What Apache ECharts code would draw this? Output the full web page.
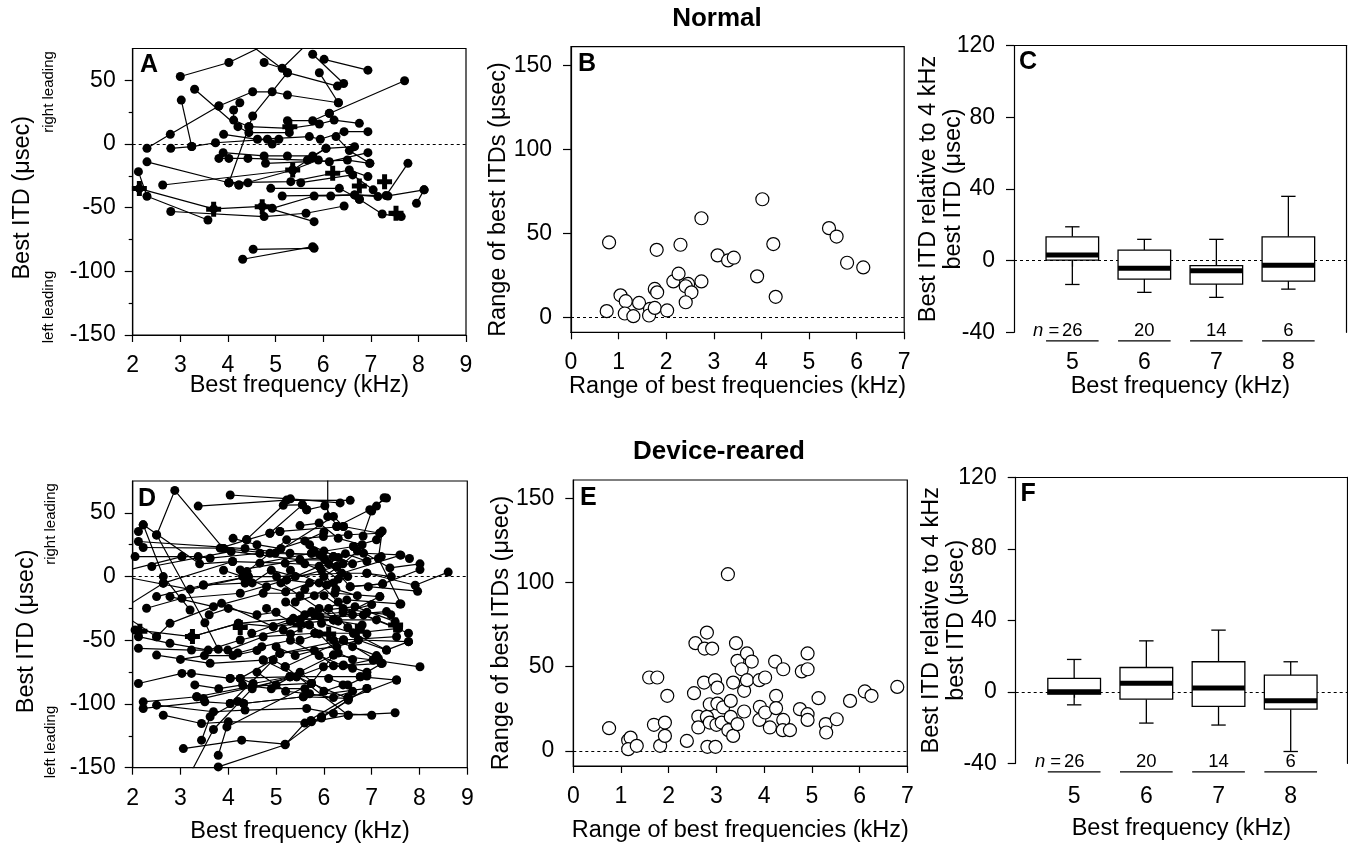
<!DOCTYPE html>
<html><head><meta charset="utf-8">
<script src="https://cdn.jsdelivr.net/npm/echarts@6/dist/echarts.min.js"></script>
<style>html,body{margin:0;padding:0;background:#fff}#c{width:1348px;height:846px}</style>
</head><body><div id="c"></div><script>
// ---------------- DATA ----------------
// Panel A (Normal): best ITD vs best frequency, one polyline per penetration
const normalLines = [
 [[3.00,53],[4.02,64],[4.9,80]],
 [[4.4,80],[5.25,56],[6.30,45.5]],
 [[4.76,64],[5.14,59.5],[5.7,80]],
 [[6.02,66.5],[6.94,58]],
 [[5.78,70.5],[6.43,47.5]],
 [[5.92,56],[6.32,32.4]],
 [[6.13,24],[7.71,49.7]],
 [[3.30,43],[4.21,13.6],[4.44,8.9],[5.29,8.9]],
 [[3.02,34.5],[3.24,-2]],
 [[3.81,29.8],[4.52,41],[4.93,41],[5.25,38.5],[6.32,32.4]],
 [[4.25,32.4],[4.12,26.7],[4.12,18.8],[4.44,13.6]],
 [[2.30,-3.4],[2.79,7.6],[3.81,29.8]],
 [[2.80,-3.4],[3.24,-2],[3.74,1],[4.83,3.7],[4.93,0],[5.07,3.7]],
 [[2.30,-14],[4.02,-30.4],[4.23,-32.2],[4.42,-30.4]],
 [[2.12,-21.7],[2.30,-41],[3.58,-59.7]],
 [[2.63,-32.2],[5.36,-20.4],[6.06,-3.4]],
 [[2.14,-35],[3.70,-51],[4.72,-49],[5.81,-61]],
 [[2.80,-53],[4.76,-57],[5.64,-54.4],[6.44,-48.7]],
 [[4.53,-82.7],[5.81,-81.9]],
 [[4.31,-90.5],[5.78,-80.6]],
 [[4.93,-50.5],[5.81,-40.8],[6.16,-40.8],[6.66,-40],[7.36,-40.8],[8.12,-36]],
 [[7.96,-46.6],[8.12,-36]],
 [[6.76,-43.4],[7.24,-55],[7.64,-57]],
 [[7.32,-40.5],[7.78,-15.2]],
 [[3.91,7.6],[4.62,3.7],[5.71,5.8],[5.94,3.7],[6.44,9.7],[6.94,9.7]],
 [[4.44,13.6],[5.29,12.3],[5.92,15.7],[6.23,18.8],[6.76,16.2]],
 [[5.25,18.3],[5.78,18.3],[6.13,24.1]],
 [[3.90,-6.8],[4.76,-9.4],[5.25,-9.4],[5.78,-9.4],[6.06,-3.4],[6.66,-2.1]],
 [[3.81,-11.3],[4.02,-11.3],[4.42,-11.3],[5.67,-12.6],[6.13,-13.9],[6.94,-6.8]],
 [[4.79,-15.2],[6.51,-12.6],[6.98,-15.2]],
 [[4.02,-30.4],[5.32,-29.6],[6.55,-20.4],[6.94,-25.6]],
 [[5.53,-30.4],[6.62,-24.3],[7.05,-36]],
 [[4.90,-34.8],[6.34,-34.8],[6.76,-43.4]],
 [[5.14,-40.8],[6.66,-40],[7.15,-41.3]],
 [[4.02,-30.4],[4.52,22],[5.25,56]],
 [[4.23,-32.2],[5.36,-20.4],[5.9,-12.6]],
 [[6.27,5.8],[6.55,-5.2],[6.98,-15.2]]
];
const normalCrosses = [[2.14,-35],[3.70,-51.3],[4.72,-49.2],[5.36,-20.4],[6.20,-23],[6.76,-33],[7.29,-29.6],[7.53,-54.4],[5.3,13.5]];

// Panel D (Device-reared)
const rearedLines = [
 [[2.50,32.5],[2.88,67.6],[3.90,22]],
 [[3.37,55.3],[5.22,60],[6.55,59.8]],
 [[4.04,64],[5.3,61],[6.34,57.8]],
 [[4.38,29],[5.15,56],[5.55,56.3]],
 [[6.82,31.8],[7.0,51.4],[7.10,55.3],[7.26,61.9]],
 [[6.08,47],[6.08,80]],
 [[2.12,35.4],[2.22,40.6],[2.64,0],[3.2,-26.2]],
 [[2.05,15.7],[3.03,15.7],[3.37,15.7],[3.62,14.4],[4.66,18.3]],
 [[2.12,27.5],[4.35,22],[5.29,18.3],[5.92,17]],
 [[2.22,22.8],[3.83,22.3],[4.39,28.8],[4.87,34],[5.08,35.4]],
 [[2.50,32.8],[3.51,-36.2],[3.79,-57.1]],
 [[2.40,7.9],[4.06,19.7],[5.50,13.1],[6.20,15.7]],
 [[2.64,-5.2],[4.09,11.8],[5.19,10.5],[6.27,7.9],[7.20,15.7]],
 [[2.50,-15.7],[3.48,-6.6],[4.42,0],[5.01,0],[6.37,2.6],[6.90,2.6],[7.41,0]],
 [[2.29,-24.9],[3.03,-17],[4.25,-13.1],[5.22,-2.6],[6.06,-6.6]],
 [[2.78,-15.7],[3.69,-23.6],[4.73,-13.1],[6.23,-13.1],[7.17,-15.7]],
 [[2.05,-41.9],[3.23,-47.2],[4.21,-36.7],[5.36,-32.8],[6.20,-34],[7.10,-34]],
 [[2.12,-47.2],[2.78,-52.4],[3.58,-57.7],[4.25,-49.8],[5.15,-41.9],[5.92,-31.4],[7.31,-27.5]],
 [[2.12,-56.3],[3.23,-57.7],[3.99,-57.7],[4.73,-47.2],[5.81,-44.5],[6.62,-44.5],[7.56,-40.6]],
 [[2.50,-47.2],[2.78,-36.7],[3.86,-21],[4.94,-39.3],[5.50,-34],[6.48,-18.3],[7.59,-21.5]],
 [[2.50,-61.6],[3.62,-68.1],[4.73,-65.5],[5.08,-60.3],[6.27,-55],[6.72,-49.8],[7.77,-51.1]],
 [[2.12,-83.9],[3.03,-76],[3.23,-76],[4.04,-79.9],[4.25,-79.9],[4.52,-83.9],[5.29,-78.6]],
 [[2.22,-98.3],[3.34,-94.3],[3.48,-95.6],[5.43,-78.6],[5.99,-70.8],[7.20,-68.1]],
 [[2.22,-103.5],[3.51,-98.3],[4.04,-99.6],[4.32,-99.6],[5.57,-94.3],[6.51,-95.6],[7.52,-81.2]],
 [[2.50,-100.9],[3.69,-106.1],[4.35,-104.8],[5.64,-103.5],[6.20,-107.4],[7.00,-108.8]],
 [[2.64,-108.8],[3.44,-115.3],[4.00,-114],[5.74,-114],[6.51,-108.8],[7.49,-106.9]],
 [[3.06,-135],[4.28,-128.4],[5.19,-131.5],[5.95,-110],[6.90,-87.8]],
 [[3.79,-140.2],[3.97,-118],[5.74,-83.9],[6.20,-61.6]],
 [[3.79,-149.4],[5.19,-132],[5.6,-115],[6.5,-95]],
 [[3.44,-128.4],[3.62,-110],[4.2,-98]],
 [[3.2,-155],[3.69,-120],[4.5,-88],[5.29,-78.6]],
 [[4.04,-99.6],[5.08,-60.3],[6.41,-49.8]],
 [[4.25,-79.9],[4.94,-65.5],[5.19,-70.8],[6.41,-49.8],[7.52,-47.2]],
 [[4.49,-44.5],[5.74,-27.5],[6.65,-23.6],[7.49,-35.4]],
 [[4.25,5.2],[5.50,13.1],[6.02,13.1],[6.83,18.3],[7.59,17],[7.79,14.2]],
 [[4.39,3.9],[5.22,28.8],[5.99,31.4],[6.51,32.8],[7.17,34]],
 [[4.66,10.5],[5.74,18.3],[6.62,23.6],[7.10,28.8]],
 [[4.98,18.3],[6.20,47.2],[6.41,39.3]],
 [[5.64,52.4],[6.02,55.6],[6.27,39.3]],
 [[6.27,39.3],[6.96,52.4],[7.31,61.6]],
 [[6.62,23.6],[7.38,6.8],[8.01,10]],
 [[6.90,2.6],[7.91,-6.8],[8.60,3.5]],
 [[6.93,-7.9],[7.96,-11.5]],
 [[6.55,-7.9],[7.23,-5.7],[8.01,5.5]],
 [[6.83,-30.1],[7.77,-44.5]],
 [[7.03,-65.5],[8.01,-70.8]],
 [[6.76,-78.6],[7.52,-81.2]],
 [[5.95,-36.7],[6.62,-44.5],[7.31,-57.7]],
 [[5.08,35.4],[6.41,39.3],[7.17,34]],
 [[4.87,34],[5.55,56.3],[5.64,52.4]],
 [[3.90,22],[4.87,18.3],[5.92,17],[6.20,15.7]],
 [[2.22,40.6],[3.4,10],[4.09,11.8]],
 [[3.48,-6.6],[4.35,-5.2],[5.22,-2.6],[6.27,7.9]],
 [[3.23,-47.2],[4.21,-36.7],[4.94,-39.3],[6.20,-34]],
 [[4.73,-65.5],[5.74,-83.9],[6.51,-95.6]],
 [[5.29,-78.6],[6.20,-61.6],[7.03,-65.5]],
 [[5.19,-70.8],[6.51,-108.8]],
 [[4.32,-99.6],[5.57,-94.3],[6.90,-87.8]],
 [[6.02,13.1],[6.55,-7.9],[7.23,-5.7]],
 [[5.74,18.3],[6.37,2.6],[7.61,16.8]],
 [[1.8,-25],[2.64,-5.2]],
 [[1.8,0],[3.2,-10],[4.42,0]],
 [[1.8,-30],[2.50,-47.2]],
 [[1.9,5],[3.03,15.7]],
 [[6.20,-34],[7.17,-15.7]],
 [[5.50,-34],[6.83,-30.1],[7.56,-40.6]],
 [[6.72,-49.8],[7.31,-57.7],[7.77,-51.1]],
 [[4.04,-79.9],[5.43,-78.6],[6.76,-78.6]],
 [[3.34,-94.3],[4.5,-86],[5.74,-83.9]],
 [[5.81,-44.5],[6.41,-49.8],[7.20,-68.1]],
 [[7.22,35.7],[7.14,14.2],[7.61,-21.5]],
 [[5.3,5],[5.9,-5],[6.3,-20],[6.6,-30]],
 [[5.6,-10],[6.0,0],[6.4,10],[6.7,20]],
 [[5.4,-20],[5.8,-15],[6.2,-5],[6.5,0]],
 [[5.7,25],[6.0,20],[6.3,15],[6.6,10]],
 [[5.5,-50],[5.9,-45],[6.3,-60],[6.6,-65]],
 [[5.0,-85],[5.5,-75],[6.0,-90],[6.4,-85]],
 [[5.2,-20],[5.6,-30],[6.1,-25],[6.5,-40],[6.9,-45]],
 [[5.3,-45],[5.7,-38],[6.2,-50],[6.6,-55],[7.1,-62]],
 [[5.1,-5],[5.5,-15],[5.9,-25],[6.3,-35],[6.8,-38]],
 [[5.6,10],[5.95,5],[6.25,-10],[6.7,-15]],
 [[5.8,20],[6.1,10],[6.45,18],[6.9,12]],
 [[5.0,-55],[5.4,-62],[5.8,-58],[6.2,-70],[6.6,-72]],
 [[4.6,-75],[5.2,-90],[5.7,-92],[6.2,-95],[6.6,-90]],
 [[4.8,-25],[5.3,-35],[5.8,-30],[6.4,-28],[7.0,-22]],
 [[4.5,-5],[4.9,5],[5.4,0],[5.9,8],[6.3,-2]],
 [[4.2,-60],[4.7,-55],[5.3,-50],[5.9,-62],[6.4,-70],[7.14,-64.2]],
 [[6.41,-69.4],[6.9,-75],[7.22,-68]],
 [[5.73,-113],[5.95,-111],[6.51,-97]],
 [[4.1,30],[4.6,25],[5.1,22],[5.6,28],[6.0,35]],
 [[3.9,5],[4.3,0],[4.8,-8],[5.2,-12],[5.7,-5]],
 [[3.6,-30],[4.0,-25],[4.6,-30],[5.0,-28]],
 [[3.3,-85],[3.8,-88],[4.3,-85],[4.9,-88],[5.6,-88]],
 [[3.0,-65],[3.5,-62],[4.1,-62],[4.6,-58]],
 [[6.0,-15],[6.4,-25],[6.9,-28],[7.4,-30]],
 [[5.5,40],[5.9,42],[6.3,30],[6.8,25]],
 [[6.1,-80],[6.5,-85],[6.9,-78]]
];
const rearedCrosses = [[2.15,-43],[3.25,-47],[4.25,-40],[5.5,-38],[6.1,-45],[6.7,-43],[7.5,-38]];

// Panels B and E: [range of best frequencies (kHz), range of best ITDs (usec)]
const normalRanges = [
 [0.80,44.5],[0.75,3.6],[1.04,13.0],[1.15,9.5],[1.13,2.2],[1.31,0.6],[1.43,8.5],[1.66,4.9],
 [1.64,1.0],[1.76,5.5],[1.76,16.8],[1.81,14.8],[1.80,40.1],[2.02,4.0],[2.15,21.3],[2.26,25.9],
 [2.30,43.1],[2.46,19.8],[2.41,18.4],[2.53,14.8],[2.41,8.9],[2.74,58.9],[2.74,21.3],[3.08,36.8],
 [3.30,33.8],[3.42,35.4],[4.02,70.2],[3.91,24.3],[4.25,43.5],[4.30,12.1],[5.42,53.0],[5.58,48.0],
 [5.80,32.4],[6.14,29.6]
];
const rearedRanges = [
 [0.75,13.5],[1.15,6.3],[1.20,7.9],[1.15,1.0],[1.33,3.0],[1.59,43.6],[1.76,43.6],[1.69,15.5],
 [1.82,3.0],[1.92,16.8],[1.92,8.9],[1.97,32.7],[2.38,5.9],[2.53,34.3],[2.56,64.0],[2.80,70.3],
 [2.75,60.8],[2.91,60.8],[2.74,40.6],[2.62,20.4],[2.62,13.9],[2.80,20.2],[2.86,16.8],[2.86,27.7],
 [2.97,42.0],[3.02,37.6],[3.02,28.1],[3.00,15.5],[2.81,2.4],[2.98,2.4],[3.14,25.8],[3.11,16.8],
 [3.24,105.0],[3.30,29.7],[3.30,20.2],[3.25,12.3],[3.35,8.9],[3.44,15.9],[3.35,40.6],[3.41,64.0],
 [3.44,53.5],[3.53,48.5],[3.58,35.7],[3.58,23.4],[3.64,57.9],[3.74,53.1],[3.64,42.0],[3.90,42.0],
 [4.02,43.6],[3.91,26.2],[3.90,18.4],[4.02,22.8],[4.12,13.9],[4.25,32.7],[4.25,25.4],[4.23,53.1],
 [4.40,48.5],[4.40,18.4],[4.39,12.3],[4.54,12.3],[4.75,24.8],[4.79,47.2],[4.91,48.5],[4.91,57.9],
 [4.91,21.8],[4.91,18.4],[5.14,31.3],[5.29,15.9],[5.30,10.9],[5.52,18.8],[5.80,29.7],[6.11,35.3],
 [6.25,32.7],[6.79,38.0]
];

// Panels C and F: box plots, best ITD relative to 4 kHz best ITD
const boxFreqs = [5, 6, 7, 8];
const boxN = [26, 20, 14, 6];
const normalLow    = [-13.3, -17.7, -20.5, -15.9];
const normalQ1     = [0.3, -10.3, -13.1, -11.4];
const normalMedian = [3.2, -4.3, -5.6, -2.5];
const normalQ3     = [13.3, 5.9, -2.8, 13.3];
const normalHigh   = [18.9, 11.9, 11.9, 35.9];
const rearedLow    = [-7.3, -17.5, -18.6, -33.4];
const rearedQ1     = [-1.3, -4.1, -8.2, -9.7];
const rearedMedian = [0.0, 4.8, 2.1, -5.0];
const rearedQ3     = [7.5, 13.6, 16.8, 9.3];
const rearedHigh   = [18.1, 28.5, 34.5, 16.8];

// Tick values
const itdTicks = [-150, -100, -50, 0, 50];
const itdMinorTicks = [-125, -75, -25, 25];
const bfTicks = [2, 3, 4, 5, 6, 7, 8, 9];
const rangeXTicks = [0, 1, 2, 3, 4, 5, 6, 7];
const rangeYTicks = [0, 50, 100, 150];
const relTicks = [-40, 0, 40, 80, 120];

// ---------------- STYLE / BUILD ----------------
const FONT = '"Liberation Sans", Arial, Helvetica, sans-serif';
const K = '#000';
const LS = {color: K, width: 1.2};
const REL_MIN = -40;
const BOX_WIDTH = 0.73, CAP_WIDTH = 0.2;

function lab(vals, margin, extra) {
  return Object.assign({show: true, customValues: vals, margin: margin, color: K, fontFamily: FONT, fontSize: 23}, extra || {});
}
function tick(vals, len) {
  return {show: true, inside: false, customValues: vals, length: len, lineStyle: LS};
}
function nameStyle(extra) {
  return Object.assign({color: K, fontFamily: FONT, fontSize: 23.5}, extra || {});
}
function axis(o) {
  return Object.assign({type: 'value', splitLine: {show: false}, nameMoveOverlap: false,
    axisLine: {show: true, onZero: false, lineStyle: LS}}, o);
}
function frameAxis(grid, pos, min, max) {
  return axis({gridIndex: grid, position: pos, min: min, max: max, axisTick: {show: false}, axisLabel: {show: false}});
}

const grids = [
  {left: 132.7, top: 48.5, width: 333.3, height: 286.5, show: true, borderColor: K, borderWidth: 1.2},   // A
  {left: 571, top: 46.7, width: 333.2, height: 285.6, show: true, borderColor: K, borderWidth: 1.2},     // B
  {left: 1014, top: 45.7, width: 332.7, height: 286.6},                                                 // C
  {left: 132.7, top: 481, width: 334.6, height: 286.7, show: true, borderColor: K, borderWidth: 1.2},    // D
  {left: 573.3, top: 480, width: 334, height: 286, show: true, borderColor: K, borderWidth: 1.2},        // E
  {left: 1015.7, top: 477.3, width: 331.3, height: 286}                                                 // F
];

const xAxes = [
  axis({gridIndex: 0, position: 'bottom', min: 2, max: 9, axisTick: tick(bfTicks, 7), axisLabel: lab(bfTicks, 19),
        name: 'Best frequency (kHz)', nameLocation: 'middle', nameGap: 39, nameTextStyle: nameStyle()}),
  axis({gridIndex: 1, position: 'bottom', min: 0, max: 7, axisTick: tick(rangeXTicks, 7), axisLabel: lab(rangeXTicks, 19),
        name: 'Range of best frequencies (kHz)', nameLocation: 'middle', nameGap: 42, nameTextStyle: nameStyle()}),
  axis({gridIndex: 2, position: 'bottom', min: 4.19, max: 8.81, offset: 8, axisLine: {show: false}, axisTick: tick(boxFreqs, 6), axisLabel: lab(boxFreqs, 11),
        name: 'Best frequency (kHz)', nameLocation: 'middle', nameGap: 34, nameTextStyle: nameStyle()}),
  frameAxis(2, 'top', 4.19, 8.81),
  axis({gridIndex: 3, position: 'bottom', min: 2, max: 9, axisTick: tick(bfTicks, 7), axisLabel: lab(bfTicks, 19),
        name: 'Best frequency (kHz)', nameLocation: 'middle', nameGap: 52, nameTextStyle: nameStyle()}),
  axis({gridIndex: 4, position: 'bottom', min: 0, max: 7, axisTick: tick(rangeXTicks, 7), axisLabel: lab(rangeXTicks, 19),
        name: 'Range of best frequencies (kHz)', nameLocation: 'middle', nameGap: 53, nameTextStyle: nameStyle()}),
  axis({gridIndex: 5, position: 'bottom', min: 4.19, max: 8.78, offset: 9, axisLine: {show: false}, axisTick: tick(boxFreqs, 6), axisLabel: lab(boxFreqs, 13),
        name: 'Best frequency (kHz)', nameLocation: 'middle', nameGap: 44, nameTextStyle: nameStyle()}),
  frameAxis(5, 'top', 4.19, 8.78)
];

const yAxes = [
  axis({gridIndex: 0, position: 'left', min: -150, max: 75, axisTick: tick(itdTicks, 8), axisLabel: lab(itdTicks, 17),
        name: 'Best ITD (\u03bcsec)', nameLocation: 'middle', nameGap: 98, nameTextStyle: nameStyle({padding: [0, 12, 0, 0]})}),
  axis({gridIndex: 0, position: 'left', min: -150, max: 75, axisLine: {show: false}, axisTick: tick(itdMinorTicks, 4), axisLabel: {show: false}}),
  axis({gridIndex: 1, position: 'left', min: -9, max: 161, axisTick: tick(rangeYTicks, 8), axisLabel: lab(rangeYTicks, 19),
        name: 'Range of best ITDs (\u03bcsec)', nameLocation: 'middle', nameGap: 60, nameTextStyle: nameStyle({padding: [0, 20, 0, 0]})}),
  axis({gridIndex: 2, position: 'left', min: -40, max: 120, axisTick: tick(relTicks, 8), axisLabel: lab(relTicks, 19),
        name: 'Best ITD relative to 4 kHz\nbest ITD (\u03bcsec)', nameLocation: 'middle', nameGap: 48, nameTextStyle: nameStyle({lineHeight: 25})}),
  frameAxis(2, 'right', -40, 120),
  axis({gridIndex: 3, position: 'left', min: -150, max: 75, axisTick: tick(itdTicks, 8), axisLabel: lab(itdTicks, 17),
        name: 'Best ITD (\u03bcsec)', nameLocation: 'middle', nameGap: 94, nameTextStyle: nameStyle({padding: [0, 14, 0, 0]})}),
  axis({gridIndex: 3, position: 'left', min: -150, max: 75, axisLine: {show: false}, axisTick: tick(itdMinorTicks, 4), axisLabel: {show: false}}),
  axis({gridIndex: 4, position: 'left', min: -9, max: 161, axisTick: tick(rangeYTicks, 8), axisLabel: lab(rangeYTicks, 19),
        name: 'Range of best ITDs (\u03bcsec)', nameLocation: 'middle', nameGap: 60, nameTextStyle: nameStyle({padding: [0, 20, 0, 0]})}),
  axis({gridIndex: 5, position: 'left', min: -40, max: 120, axisTick: tick(relTicks, 8), axisLabel: lab(relTicks, 19),
        name: 'Best ITD relative to 4 kHz\nbest ITD (\u03bcsec)', nameLocation: 'middle', nameGap: 47, nameTextStyle: nameStyle({lineHeight: 25})}),
  frameAxis(5, 'right', -40, 120)
];

const PLUS = 'path://M4,0H8V4H12V8H8V12H4V8H0V4H4Z';

function zeroLine(xi, yi) {
  return {type: 'line', xAxisIndex: xi, yAxisIndex: yi, data: [], silent: true, z: 1,
    markLine: {silent: true, z: 1, symbol: 'none', animation: false, label: {show: false},
      lineStyle: {color: K, type: [3, 3], width: 1}, data: [{yAxis: 0}]}};
}
function polylines(lines, xi, yi) {
  return lines.map(pts => ({type: 'line', xAxisIndex: xi, yAxisIndex: yi, data: pts, clip: true,
    symbol: 'circle', symbolSize: 9, showSymbol: true, showAllSymbol: true, silent: true, z: 3,
    itemStyle: {color: K, opacity: 1}, lineStyle: {color: K, width: 1.2}}));
}
function crosses(pts, xi, yi) {
  return {type: 'scatter', xAxisIndex: xi, yAxisIndex: yi, data: pts, symbol: PLUS, symbolSize: 15,
    itemStyle: {color: K, opacity: 1}, silent: true, z: 4};
}
function circles(pts, xi, yi) {
  return {type: 'scatter', xAxisIndex: xi, yAxisIndex: yi, data: pts, symbol: 'circle', symbolSize: 13,
    itemStyle: {color: '#fff', borderColor: K, borderWidth: 1.2, opacity: 1}, silent: true, z: 3};
}
function boxData(lo, q1, md, q3, hi) {
  return boxFreqs.map((f, i) => [f, lo[i], q1[i], md[i], q3[i], hi[i], boxN[i]]);
}
function renderBox(params, api) {
  const x = api.value(0);
  const p = v => api.coord([x, v]);
  const hw = api.size([BOX_WIDTH, 0])[0] / 2;
  const cw = api.size([CAP_WIDTH, 0])[0] / 2;
  const lo = p(api.value(1)), q1 = p(api.value(2)), md = p(api.value(3)), q3 = p(api.value(4)), hi = p(api.value(5));
  const base = p(REL_MIN);
  const cx = lo[0];
  const n = api.value(6);
  const ls = {stroke: K, lineWidth: 1.3, fill: null};
  const ul = base[1] + 8.5;
  const children = [
    {type: 'line', shape: {x1: cx, y1: hi[1], x2: cx, y2: q3[1]}, style: ls},
    {type: 'line', shape: {x1: cx - cw, y1: hi[1], x2: cx + cw, y2: hi[1]}, style: ls},
    {type: 'line', shape: {x1: cx, y1: q1[1], x2: cx, y2: lo[1]}, style: ls},
    {type: 'line', shape: {x1: cx - cw, y1: lo[1], x2: cx + cw, y2: lo[1]}, style: ls},
    {type: 'rect', shape: {x: cx - hw, y: q3[1], width: 2 * hw, height: q1[1] - q3[1]}, style: {fill: '#fff', stroke: K, lineWidth: 1.3}},
    {type: 'rect', shape: {x: cx - hw, y: md[1] - 2.5, width: 2 * hw, height: 5}, style: {fill: K}},
    {type: 'line', shape: {x1: cx - hw, y1: ul, x2: cx + hw, y2: ul}, style: ls},
    {type: 'text', style: {text: String(n), x: cx, y: ul - 0.5, align: 'center', verticalAlign: 'bottom', font: '18.5px ' + FONT, fill: K}}
  ];
  if (params.dataIndex === 0) {
    children.push({type: 'text', style: {text: '{i|n} =', x: cx - 13, y: ul - 0.5, align: 'right', verticalAlign: 'bottom',
      font: '18.5px ' + FONT, fill: K, rich: {i: {fontStyle: 'italic', fontFamily: FONT, fontSize: 18.5}}}});
  }
  return {type: 'group', children: children};
}
function boxSeries(data, xi, yi) {
  return {type: 'custom', xAxisIndex: xi, yAxisIndex: yi, data: data, renderItem: renderBox, clip: false, silent: true, z: 3,
    encode: {x: 0, y: [1, 2, 3, 4, 5]}};
}

const series = [
  zeroLine(0, 0), ...polylines(normalLines, 0, 0), crosses(normalCrosses, 0, 0),
  zeroLine(1, 2), circles(normalRanges, 1, 2),
  zeroLine(2, 3), boxSeries(boxData(normalLow, normalQ1, normalMedian, normalQ3, normalHigh), 2, 3),
  zeroLine(4, 5), ...polylines(rearedLines, 4, 5), crosses(rearedCrosses, 4, 5),
  zeroLine(5, 7), circles(rearedRanges, 5, 7),
  zeroLine(6, 8), boxSeries(boxData(rearedLow, rearedQ1, rearedMedian, rearedQ3, rearedHigh), 6, 8)
];

function txt(x, y, s, font, rot, align) {
  return {type: 'text', x: x, y: y, rotation: rot || 0, z: 10, silent: true,
    style: {text: s, font: font, fill: K, align: align || 'center', verticalAlign: 'middle'}};
}
const BOLD_T = 'bold 26px ' + FONT, BOLD_L = 'bold 25px ' + FONT, SMALL = '15px ' + FONT;
const graphics = [
  txt(717, 19, 'Normal', BOLD_T),
  txt(719, 452, 'Device-reared', BOLD_T),
  txt(140, 65, 'A', BOLD_L, 0, 'left'),
  txt(578, 64, 'B', BOLD_L, 0, 'left'),
  txt(1019, 62, 'C', BOLD_L, 0, 'left'),
  txt(138, 499, 'D', BOLD_L, 0, 'left'),
  txt(580, 498, 'E', BOLD_L, 0, 'left'),
  txt(1020.5, 494, 'F', BOLD_L, 0, 'left'),
  txt(49, 92, 'right leading', SMALL, Math.PI / 2),
  txt(49, 307, 'left leading', SMALL, Math.PI / 2),
  txt(51, 524, 'right leading', SMALL, Math.PI / 2),
  txt(51, 742, 'left leading', SMALL, Math.PI / 2)
];

const chart = echarts.init(document.getElementById('c'), null, {renderer: 'canvas'});
chart.setOption({
  animation: false,
  backgroundColor: '#fff',
  textStyle: {fontFamily: FONT},
  grid: grids,
  xAxis: xAxes,
  yAxis: yAxes,
  series: series,
  graphic: graphics
});
</script></body></html>
